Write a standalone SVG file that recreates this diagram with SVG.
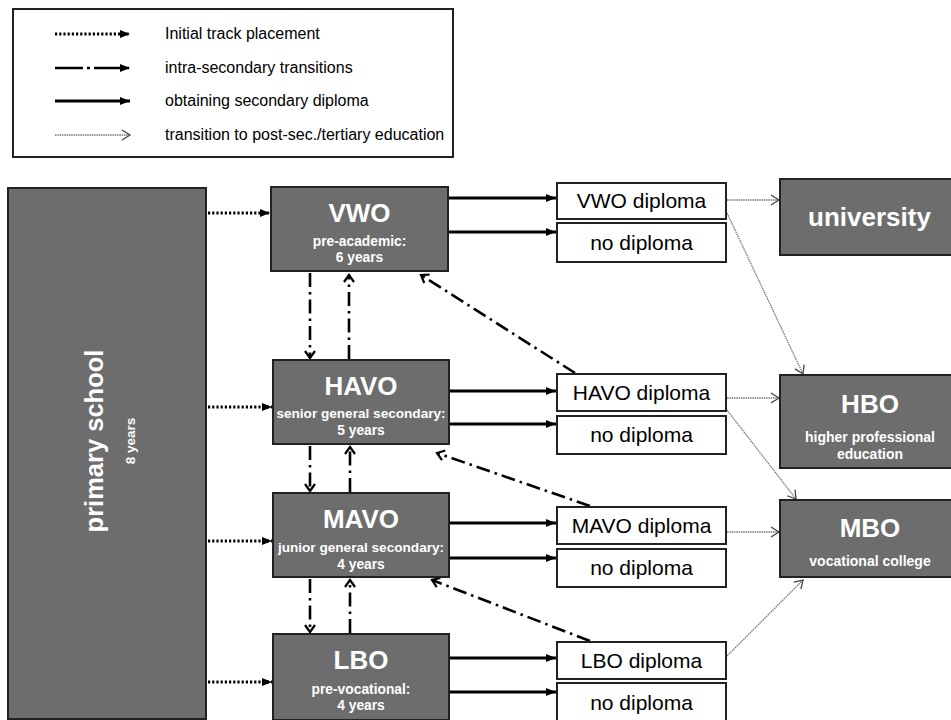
<svg xmlns="http://www.w3.org/2000/svg" width="951" height="720" viewBox="0 0 951 720">
<style>
.box{fill:#6d6d6d;stroke:#222;stroke-width:2}
.wbox{fill:#fff;stroke:#222;stroke-width:2}
.t{font-family:"Liberation Sans",Arial,sans-serif;fill:#fff;font-weight:bold;text-anchor:middle}
.d{font-family:"Liberation Sans",Arial,sans-serif;fill:#000;font-size:21px;text-anchor:middle}
.lg{font-family:"Liberation Sans",Arial,sans-serif;fill:#000;font-size:16px}
.solid{stroke:#000;stroke-width:3;fill:none}
.dot{stroke:#000;stroke-width:3;fill:none;stroke-dasharray:2.2 2}
.dd{stroke:#000;stroke-width:2.6;fill:none;stroke-dasharray:14 5 2.5 5}
.thin{stroke:#777;stroke-width:1.3;fill:none;stroke-dasharray:1.5 0.8}
</style>
<defs>
<marker id="tri" markerUnits="userSpaceOnUse" markerWidth="12" markerHeight="10" refX="10" refY="5" orient="auto"><path d="M0,1 L10,5 L0,9 Z" fill="#000"/></marker>
<marker id="chev" markerUnits="userSpaceOnUse" markerWidth="12" markerHeight="12" refX="9" refY="6" orient="auto"><path d="M2,1 L9,6 L2,11" fill="none" stroke="#000" stroke-width="2.2"/></marker>
<marker id="open" markerUnits="userSpaceOnUse" markerWidth="12" markerHeight="12" refX="10" refY="6" orient="auto"><path d="M2,1 L10,6 L2,11" fill="none" stroke="#444" stroke-width="1.3"/></marker>
</defs>

<g id="legend">
<rect x="13" y="9" width="440" height="148" fill="#fff" stroke="#222" stroke-width="2"/>
<line class="dot" x1="55" y1="34" x2="130" y2="34" marker-end="url(#tri)"/>
<line class="dd" x1="55" y1="68" x2="130" y2="68" style="stroke-dasharray:28 4 3 4" marker-end="url(#tri)"/>
<line class="solid" x1="55" y1="101" x2="130" y2="101" marker-end="url(#tri)"/>
<line class="thin" x1="55" y1="135" x2="130" y2="135" marker-end="url(#open)"/>
<text class="lg" x="165" y="39">Initial track placement</text>
<text class="lg" x="165" y="73">intra-secondary transitions</text>
<text class="lg" x="165" y="106">obtaining secondary diploma</text>
<text class="lg" x="165" y="140">transition to post-sec./tertiary education</text>
</g>

<g id="connectors">
<line class="dot" x1="208" y1="213" x2="270" y2="213" marker-end="url(#tri)"/>
<line class="dot" x1="208" y1="407" x2="272" y2="407" marker-end="url(#tri)"/>
<line class="dot" x1="208" y1="541" x2="272" y2="541" marker-end="url(#tri)"/>
<line class="dot" x1="208" y1="682" x2="272" y2="682" marker-end="url(#tri)"/>

<line class="solid" x1="449" y1="198" x2="556" y2="198" marker-end="url(#tri)"/>
<line class="solid" x1="449" y1="232" x2="556" y2="232" marker-end="url(#tri)"/>
<line class="solid" x1="450" y1="391" x2="556" y2="391" marker-end="url(#tri)"/>
<line class="solid" x1="450" y1="424" x2="556" y2="424" marker-end="url(#tri)"/>
<line class="solid" x1="450" y1="523" x2="556" y2="523" marker-end="url(#tri)"/>
<line class="solid" x1="450" y1="558" x2="556" y2="558" marker-end="url(#tri)"/>
<line class="solid" x1="450" y1="658" x2="556" y2="658" marker-end="url(#tri)"/>
<line class="solid" x1="450" y1="692" x2="556" y2="692" marker-end="url(#tri)"/>

<line class="dd" x1="310" y1="273" x2="310" y2="358" marker-end="url(#chev)"/>
<line class="dd" x1="349" y1="359" x2="349" y2="275" marker-end="url(#chev)"/>
<line class="dd" x1="310" y1="446" x2="310" y2="491" marker-end="url(#chev)"/>
<line class="dd" x1="350" y1="492" x2="350" y2="447" marker-end="url(#chev)"/>
<line class="dd" x1="310" y1="579" x2="310" y2="632" marker-end="url(#chev)"/>
<line class="dd" x1="350" y1="633" x2="350" y2="580" marker-end="url(#chev)"/>

<line class="dd" x1="575" y1="373" x2="421" y2="275" marker-end="url(#chev)"/>
<line class="dd" x1="590" y1="506" x2="437" y2="453" marker-end="url(#chev)"/>
<line class="dd" x1="590" y1="641" x2="432" y2="580" marker-end="url(#chev)"/>

<line class="thin" x1="727" y1="200" x2="779" y2="200" marker-end="url(#open)"/>
<line class="thin" x1="727" y1="213" x2="803" y2="374" marker-end="url(#open)"/>
<line class="thin" x1="727" y1="398" x2="779" y2="398" marker-end="url(#open)"/>
<line class="thin" x1="727" y1="410" x2="796" y2="499" marker-end="url(#open)"/>
<line class="thin" x1="727" y1="532" x2="779" y2="532" marker-end="url(#open)"/>
<line class="thin" x1="727" y1="656" x2="803" y2="580" marker-end="url(#open)"/>
</g>

<g id="primary">
<rect class="box" x="8" y="188" width="198" height="531"/>
<text class="t" font-size="25.5" transform="translate(103,441) rotate(-90)">primary school</text>
<text class="t" font-size="13.5" transform="translate(135,441) rotate(-90)">8 years</text>
</g>

<g id="vwo">
<rect class="box" x="271" y="187" width="177" height="84"/>
<text class="t" x="359.5" y="222" font-size="26">VWO</text>
<text class="t" x="359.5" y="246" font-size="13.8">pre-academic:</text>
<text class="t" x="359.5" y="262" font-size="13.8">6 years</text>
</g>
<g id="havo">
<rect class="box" x="273" y="360" width="176" height="84"/>
<text class="t" x="361" y="395" font-size="26">HAVO</text>
<text class="t" x="361" y="418" font-size="13.6">senior general secondary:</text>
<text class="t" x="361" y="435" font-size="13.8">5 years</text>
</g>
<g id="mavo">
<rect class="box" x="273" y="493" width="176" height="84"/>
<text class="t" x="361" y="528" font-size="26">MAVO</text>
<text class="t" x="361" y="552" font-size="13.6">junior general secondary:</text>
<text class="t" x="361" y="569" font-size="13.8">4 years</text>
</g>
<g id="lbo">
<rect class="box" x="273" y="634" width="176" height="86"/>
<text class="t" x="361" y="669" font-size="26">LBO</text>
<text class="t" x="361" y="694" font-size="13.8">pre-vocational:</text>
<text class="t" x="361" y="710" font-size="13.8">4 years</text>
</g>

<g id="vwo-diploma"><rect class="wbox" x="557" y="183" width="169" height="36"/><text class="d" x="641.5" y="208">VWO diploma</text></g>
<g id="vwo-nodiploma"><rect class="wbox" x="557" y="223" width="169" height="39"/><text class="d" x="641.5" y="250">no diploma</text></g>
<g id="havo-diploma"><rect class="wbox" x="557" y="374" width="169" height="37"/><text class="d" x="641.5" y="400">HAVO diploma</text></g>
<g id="havo-nodiploma"><rect class="wbox" x="557" y="416" width="169" height="38"/><text class="d" x="641.5" y="442">no diploma</text></g>
<g id="mavo-diploma"><rect class="wbox" x="557" y="507" width="169" height="37"/><text class="d" x="641.5" y="533">MAVO diploma</text></g>
<g id="mavo-nodiploma"><rect class="wbox" x="557" y="549" width="169" height="38"/><text class="d" x="641.5" y="575">no diploma</text></g>
<g id="lbo-diploma"><rect class="wbox" x="557" y="642" width="169" height="37"/><text class="d" x="641.5" y="668">LBO diploma</text></g>
<g id="lbo-nodiploma"><rect class="wbox" x="557" y="683" width="169" height="40"/><text class="d" x="641.5" y="710">no diploma</text></g>

<g id="university">
<rect class="box" x="780" y="179" width="185" height="76"/>
<text class="t" x="869.5" y="226" font-size="26">university</text>
</g>
<g id="hbo">
<rect class="box" x="780" y="375" width="185" height="93"/>
<text class="t" x="870" y="413" font-size="26">HBO</text>
<text class="t" x="870" y="442" font-size="14">higher professional</text>
<text class="t" x="870" y="459" font-size="14">education</text>
</g>
<g id="mbo">
<rect class="box" x="780" y="500" width="185" height="77"/>
<text class="t" x="870" y="537" font-size="26">MBO</text>
<text class="t" x="870" y="566" font-size="14">vocational college</text>
</g>
</svg>
